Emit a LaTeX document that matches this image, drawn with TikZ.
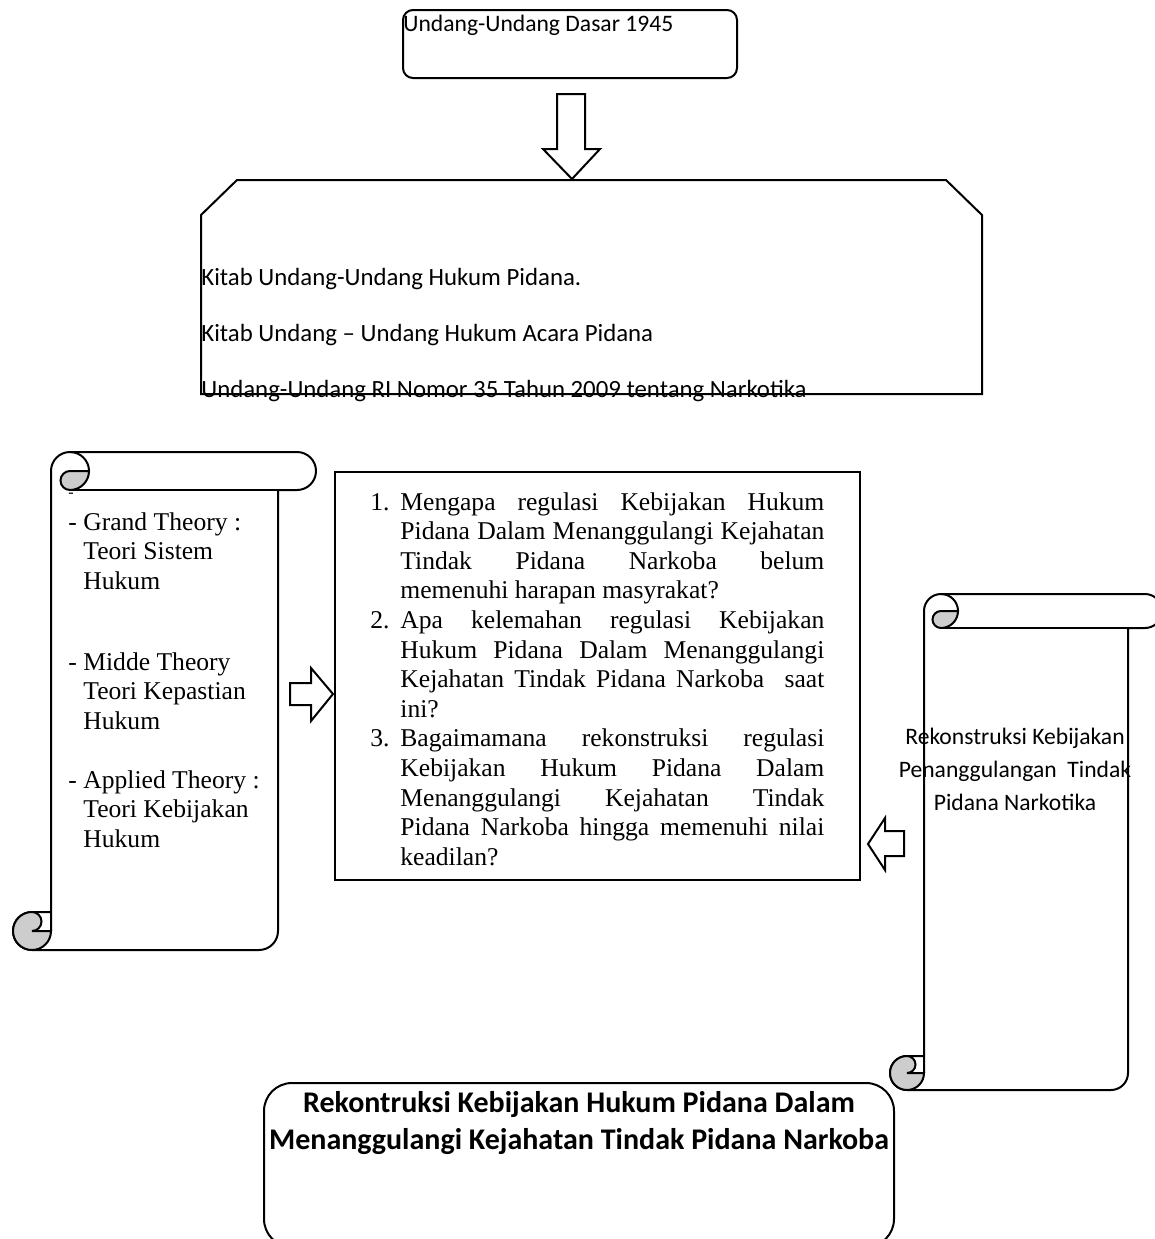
\documentclass[tikz,border=0pt]{standalone}
\usepackage{fontspec}
\setmainfont{Liberation Serif}
\newfontfamily\carlito{Carlito}

\begin{document}
\begin{tikzpicture}[x=0.5pt, y=-0.5pt,
    box/.style={draw, rectangle, line width=1pt, inner sep=0pt},
    sanslabel/.style={inner sep=0pt, font=\carlito\fontsize{11.8}{16.5}\selectfont},
    seriflabel/.style={inner sep=0pt, align=left, font=\fontsize{12.8}{14.8}\selectfont},
    scrollline/.style={line width=1pt, line join=round},
    curl/.style={draw, line width=1pt, fill=curlgray},
    blockarrow/.style={draw, line width=1pt, line join=miter, fill=white}]
        \useasboundingbox (0,0) rectangle (1155,1239);
        \definecolor{curlgray}{RGB}{205,205,205}

        % left scroll
        \draw[scrollline, fill=white] (51,931) -- (51,471) arc[start angle=180, end angle=270, radius=19] -- (297,452) arc[start angle=270, end angle=450, radius=19] -- (278,490) -- (278,931) arc[start angle=0, end angle=90, radius=19] -- (32,950) arc[start angle=90, end angle=270, radius=19] -- (51,912);
        \draw[curl] (89,471) arc[start angle=0, end angle=90, radius=19] arc[start angle=90, end angle=270, radius=9.5] -- cycle;
        \draw[scrollline] (70,452) arc[start angle=270, end angle=360, radius=19];
        \draw[scrollline] (70,490) -- (278,490);
        \draw[curl] (51,931) arc[start angle=0, end angle=270, radius=19] arc[start angle=270, end angle=450, radius=9.5] -- cycle;

        % right scroll
        \draw[scrollline, fill=white] (924,1073) -- (924,611) arc[start angle=180, end angle=270, radius=17] -- (1145,594) arc[start angle=270, end angle=450, radius=17] -- (1128,628) -- (1128,1073) arc[start angle=0, end angle=90, radius=17] -- (907,1090) arc[start angle=90, end angle=270, radius=17] -- (924,1056);
        \draw[curl] (958,611) arc[start angle=0, end angle=90, radius=17] arc[start angle=90, end angle=270, radius=8.5] -- cycle;
        \draw[scrollline] (941,594) arc[start angle=270, end angle=360, radius=17];
        \draw[scrollline] (941,628) -- (1128,628);
        \draw[curl] (924,1073) arc[start angle=0, end angle=270, radius=17] arc[start angle=270, end angle=450, radius=8.5] -- cycle;

        \node[box, rounded corners=5pt, minimum width=167pt, minimum height=34pt] (uud) at (570,44) {};
        \node[sanslabel, anchor=base west] (uudtext) at (403,31) {Undang-Undang Dasar 1945};

        \draw[blockarrow] (557,94) -- (585,94) -- (585,149) -- (600,149) -- (572,179) -- (543,149) -- (557,149) -- cycle;

        \draw[line width=1pt] (237,180) -- (946,180) -- (982,215) -- (982,394) -- (201,394) -- (201,215) -- cycle;
        \node[sanslabel, font=\carlito\fontsize{12.4}{16.5}\selectfont, anchor=base west] (kuhp) at (201,285) {Kitab Undang-Undang Hukum Pidana.};
        \node[sanslabel, font=\carlito\fontsize{12.4}{16.5}\selectfont, anchor=base west] (kuhap) at (201,341) {Kitab Undang – Undang Hukum Acara Pidana};
        \node[sanslabel, font=\carlito\fontsize{12.4}{16.5}\selectfont, anchor=base west] (uunark) at (201,397) {Undang-Undang RI Nomor 35 Tahun 2009 tentang Narkotika};

        \node[seriflabel, font=\fontsize{8}{8}\selectfont, anchor=base west] (dash) at (68,497) {-};
        \node[seriflabel, anchor=north west] (grand) at (68,512) {- Grand Theory :\\\hspace*{7.5pt}Teori Sistem\\\hspace*{7.5pt}Hukum};
        \node[seriflabel, anchor=north west] (middle) at (68,652) {- Midde Theory\\\hspace*{7.5pt}Teori Kepastian\\\hspace*{7.5pt}Hukum};
        \node[seriflabel, anchor=north west] (applied) at (68,770) {- Applied Theory :\\\hspace*{7.5pt}Teori Kebijakan\\\hspace*{7.5pt}Hukum};

        \draw[blockarrow] (290,683) -- (311,683) -- (311,668) -- (333,694) -- (311,721) -- (311,705) -- (290,705) -- cycle;

        \node[box, line width=0.7pt, minimum width=262.5pt, minimum height=204pt] (qbox) at (597.5,676) {};
        \node[seriflabel, text width=227pt, align=justify, anchor=north west] (questions) at (370,492) {%
            \noindent\hangindent=15pt\hangafter=1\makebox[15pt][l]{1.}Mengapa regulasi Kebijakan Hukum\linebreak Pidana Dalam Menanggulangi Kejahatan\linebreak Tindak Pidana Narkoba belum\linebreak memenuhi harapan masyrakat?\par
            \noindent\hangindent=15pt\hangafter=1\makebox[15pt][l]{2.}Apa kelemahan regulasi Kebijakan\linebreak Hukum Pidana Dalam Menanggulangi\linebreak Kejahatan Tindak Pidana Narkoba \ saat\linebreak ini?\par
            \noindent\hangindent=15pt\hangafter=1\makebox[15pt][l]{3.}Bagaimamana rekonstruksi regulasi\linebreak Kebijakan Hukum Pidana Dalam\linebreak Menanggulangi Kejahatan Tindak\linebreak Pidana Narkoba hingga memenuhi nilai\linebreak keadilan?\par};

        \draw[blockarrow] (904,831) -- (885,831) -- (885,818) -- (868,844) -- (885,870) -- (885,856) -- (904,856) -- cycle;

        \node[sanslabel, align=center, anchor=north] (rekon) at (1015,728) {Rekonstruksi Kebijakan\\Penanggulangan \ Tindak\\Pidana Narkotika};

        \node[box, rounded corners=14pt, minimum width=315pt, minimum height=82pt] (resultbox) at (579,1165) {};
        \node[inner sep=0pt, align=center, anchor=north, font=\carlito\bfseries\fontsize{15}{18.5}\selectfont] (result) at (579,1091) {Rekontruksi Kebijakan Hukum Pidana Dalam\\Menanggulangi Kejahatan Tindak Pidana Narkoba};
\end{tikzpicture}
\end{document}
